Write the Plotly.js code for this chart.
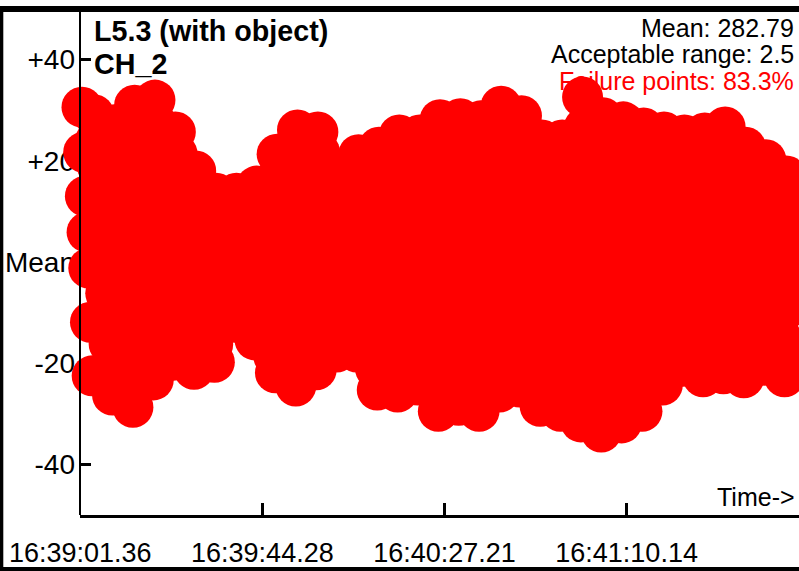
<!DOCTYPE html>
<html>
<head>
<meta charset="utf-8">
<script src="https://cdn.plot.ly/plotly-3.0.1.min.js"></script>
<style>
  html, body { margin: 0; padding: 0; background: #ffffff; }
  #chart { width: 799px; height: 571px; }
</style>
</head>
<body>
<div id="chart"></div>
<script>
// ---- data ----
// deviation from the mean of the failing readings, sampled every 0.4 s
const sampleStart = 0.4;   // seconds after 16:39:01.36
const sampleStep = 0.4;    // seconds
const failDeviation = [
  30.6, 21.7, 13.0, 5.9, -1.2, -11.9, -22.5,
  29.1, 24.0, 19.0, 14.0, 8.9, 3.9, -1.1, -6.2, -11.2, -16.2, -21.3, -26.3,
  27.1, 22.0, 16.9, 11.9, 6.8, 1.7, -3.3, -8.4, -13.5, -18.5, -23.6, -28.7,
  31.0, 26.1, 21.2, 16.2, 11.3, 6.3, 1.4, -3.6, -8.5, -13.4, -18.4, -23.3,
  32.0, 27.3, 22.7, 18.0, 13.3, 8.7, 4.0, -0.7, -5.4, -10.0, -14.7, -19.4,
  25.7, 21.4, 17.2, 12.9, 8.7, 4.4, 0.1, -4.1, -8.4, -12.6, -16.9, -21.2,
  18.0, 14.5, 11.1, 7.7, 4.3, 0.8, -2.6, -6.0, -9.5, -12.9, -16.3, -19.8,
  13.6, 11.3, 9.0, 6.7, 4.4, 2.1, -0.3, -2.6, -4.9, -7.2, -9.5, -11.9,
  13.6, 11.0, 8.4, 5.7, 3.1, 0.4, -2.2, -4.9, -7.5, -10.1, -12.8, -15.4,
  15.0, 11.7, 8.3, 4.9, 1.6, -1.8, -5.1, -8.5, -11.9, -15.2, -18.6, -21.9,
  21.3, 17.2, 13.0, 8.8, 4.7, 0.5, -3.7, -7.8, -12.0, -16.2, -20.3, -24.5,
  26.1, 21.8, 17.5, 13.2, 8.8, 4.5, 0.2, -4.1, -8.4, -12.7, -17.0, -21.3,
  25.7, 21.7, 17.8, 13.8, 9.9, 5.9, 2.0, -2.0, -5.9, -9.9, -13.8, -17.8,
  17.8, 14.6, 11.3, 8.1, 4.9, 1.6, -1.6, -4.9, -8.1, -11.3, -14.6, -17.8,
  21.2, 16.9, 12.7, 8.5, 4.3, 0.0, -4.2, -8.4, -12.6, -16.9, -21.1, -25.3,
  22.7, 18.3, 13.9, 9.5, 5.1, 0.7, -3.7, -8.1, -12.5, -16.9, -21.3, -25.7,
  25.1, 20.6, 16.1, 11.6, 7.1, 2.6, -1.9, -6.3, -10.8, -15.3, -19.8, -24.3,
  25.1, 20.1, 15.2, 10.2, 5.3, 0.3, -4.7, -9.6, -14.6, -19.5, -24.5, -29.5,
  28.1, 22.9, 17.8, 12.7, 7.6, 2.5, -2.7, -7.8, -12.9, -18.0, -23.1, -28.3,
  28.3, 23.0, 17.8, 12.5, 7.3, 2.0, -3.2, -8.5, -13.7, -19.0, -24.2, -29.5,
  27.9, 23.0, 18.1, 13.3, 8.4, 3.5, -1.3, -6.2, -11.1, -15.9, -20.8, -25.7,
  30.8, 25.8, 20.7, 15.7, 10.6, 5.6, 0.5, -4.5, -9.6, -14.6, -19.7, -24.7,
  28.9, 23.6, 18.4, 13.2, 8.0, 2.8, -2.4, -7.6, -12.8, -18.0, -23.3, -28.5,
  24.1, 19.2, 14.4, 9.5, 4.6, -0.2, -5.1, -10.0, -14.8, -19.7, -24.6, -29.5,
  24.1, 19.0, 14.0, 8.9, 3.8, -1.2, -6.3, -11.4, -16.4, -21.5, -26.6, -31.6,
  32.6, 26.6, 20.6, 14.6, 8.5, 2.5, -3.5, -9.5, -15.5, -21.6, -27.6, -33.6,
  28.5, 23.0, 17.5, 12.0, 6.5, 1.1, -4.4, -9.9, -15.4, -20.9, -26.3, -31.8,
  27.7, 22.5, 17.3, 12.1, 6.9, 1.7, -3.5, -8.7, -13.9, -19.1, -24.3, -29.5,
  26.5, 21.9, 17.2, 12.6, 8.0, 3.4, -1.2, -5.8, -10.5, -15.1, -19.7, -24.3,
  25.7, 21.5, 17.3, 13.1, 8.9, 4.7, 0.5, -3.7, -7.9, -12.1, -16.3, -20.6,
  25.1, 20.8, 16.4, 12.1, 7.7, 3.4, -1.0, -5.3, -9.7, -14.0, -18.4, -22.7,
  25.5, 21.2, 16.8, 12.5, 8.2, 3.8, -0.5, -4.8, -9.1, -13.5, -17.8, -22.1,
  26.7, 22.2, 17.7, 13.2, 8.6, 4.1, -0.4, -4.9, -9.4, -13.9, -18.4, -22.9,
  22.7, 18.8, 14.9, 11.0, 7.1, 3.1, -0.8, -4.7, -8.6, -12.5, -16.4, -20.4,
  20.2, 16.3, 12.4, 8.5, 4.6, 0.7, -3.2, -7.1, -11.0, -14.9, -18.8, -22.7,
  17.0, 13.4, 9.7, 6.1, 2.5, -1.1, -4.8, -8.4, -12.0, -15.7, -19.3, -22.9
];
// readings inside the acceptable range (seconds, deviation)
const passTimes = [12.4, 31.9, 47.4, 63.9, 78.4, 95.9, 112.4, 127.9, 141.4, 154.4];
const passDeviation = [1.2, -0.8, 2.1, -1.9, -1.2, 0.6, 1.8, -2.2, 0.9, 0.4];

const xTickVals = [0, 42.92, 85.85, 128.78];
const xTickText = ['16:39:01.36', '16:39:44.28', '16:40:27.21', '16:41:10.14'];
const yTickVals = [40, 20, 0, -20, -40];
const yTickText = ['+40', '+20', 'Mean', '-20', '-40'];

const titleLines = ['L5.3 (with object)', 'CH_2'];
const meanValue = '282.79';
const acceptableRange = '2.5';
const failurePercent = '83.3%';

// ---- chart ----
const FONT = 'Liberation Sans, Arial, Helvetica, sans-serif';

const traces = [
  {
    type: 'scatter', mode: 'markers',
    x: passTimes, y: passDeviation,
    marker: { color: '#00ff00', size: 41, line: { width: 0 } },
    cliponaxis: false, hoverinfo: 'skip'
  },
  {
    type: 'scatter', mode: 'markers',
    x0: sampleStart, dx: sampleStep, y: failDeviation,
    marker: { color: '#ff0000', size: 41, line: { width: 0 } },
    cliponaxis: false, hoverinfo: 'skip'
  }
];

// pixel -> paper helpers for the frame / texts (plot area: l=80, t=9, w=719, h=506)
const px = v => (v - 80) / 719;
const py = v => (515 - v) / 506;

const layout = {
  width: 799, height: 571,
  margin: { l: 80, r: 0, t: 9, b: 56, pad: 0 },
  paper_bgcolor: '#ffffff', plot_bgcolor: '#ffffff',
  showlegend: false,
  font: { family: FONT, color: '#000000' },
  xaxis: {
    range: [-0.07, 169.42], showgrid: false, zeroline: false,
    tickmode: 'array', tickvals: xTickVals, ticktext: xTickText,
    ticks: 'inside', ticklen: 12, tickwidth: 3, tickcolor: '#000',
    showline: true, linecolor: '#000', linewidth: 3,
    tickfont: { family: FONT, size: 27, color: '#000' },
    ticklabelstandoff: 12,
    layer: 'below traces', fixedrange: true
  },
  yaxis: {
    range: [-50, 50], showgrid: false, zeroline: false,
    tickmode: 'array', tickvals: yTickVals, ticktext: yTickText,
    ticks: 'inside', ticklen: 11, tickwidth: 3, tickcolor: '#000',
    showline: false,
    tickfont: { family: FONT, size: 28, color: '#000' },
    ticklabelstandoff: 4,
    layer: 'below traces', fixedrange: true
  },
  shapes: [
    // y axis line, drawn over the markers
    { type: 'line', xref: 'paper', yref: 'paper', x0: 0, x1: 0, y0: 0, y1: py(6),
      line: { color: '#000', width: 2 }, layer: 'above' },
    // frame
    { type: 'rect', xref: 'paper', yref: 'paper', x0: px(0), x1: px(800), y0: py(12), y1: py(6),
      fillcolor: '#000', line: { width: 0 }, layer: 'above' },
    { type: 'rect', xref: 'paper', yref: 'paper', x0: px(0), x1: px(3.3), y0: py(572), y1: py(6),
      fillcolor: '#000', line: { width: 0 }, layer: 'above' },
    { type: 'rect', xref: 'paper', yref: 'paper', x0: px(0), x1: px(800), y0: py(572), y1: py(567),
      fillcolor: '#000', line: { width: 0 }, layer: 'above' }
  ],
  annotations: [
    { text: '<b>' + titleLines[0] + '</b>', xref: 'paper', yref: 'paper',
      x: px(92), y: py(31), xanchor: 'left', yanchor: 'middle', showarrow: false,
      font: { family: FONT, size: 28.7, color: '#000' } },
    { text: '<b>' + titleLines[1] + '</b>', xref: 'paper', yref: 'paper',
      x: px(92), y: py(64.3), xanchor: 'left', yanchor: 'middle', showarrow: false,
      font: { family: FONT, size: 28.7, color: '#000' } },
    { text: 'Mean: ' + meanValue, xref: 'paper', yref: 'paper',
      x: px(795.5), y: py(28), xanchor: 'right', yanchor: 'middle', showarrow: false,
      font: { family: FONT, size: 25, color: '#000' } },
    { text: 'Acceptable range: ' + acceptableRange, xref: 'paper', yref: 'paper',
      x: px(795.5), y: py(54), xanchor: 'right', yanchor: 'middle', showarrow: false,
      font: { family: FONT, size: 25, color: '#000' } },
    { text: 'Failure points: ' + failurePercent, xref: 'paper', yref: 'paper',
      x: px(795.5), y: py(80.8), xanchor: 'right', yanchor: 'middle', showarrow: false,
      font: { family: FONT, size: 25, color: '#ff0000' } },
    { text: 'Time->', xref: 'paper', yref: 'paper',
      x: px(796.5), y: py(497), xanchor: 'right', yanchor: 'middle', showarrow: false,
      font: { family: FONT, size: 25, color: '#000' } }
  ]
};

Plotly.newPlot('chart', traces, layout, { displayModeBar: false, staticPlot: true });
</script>
</body>
</html>
